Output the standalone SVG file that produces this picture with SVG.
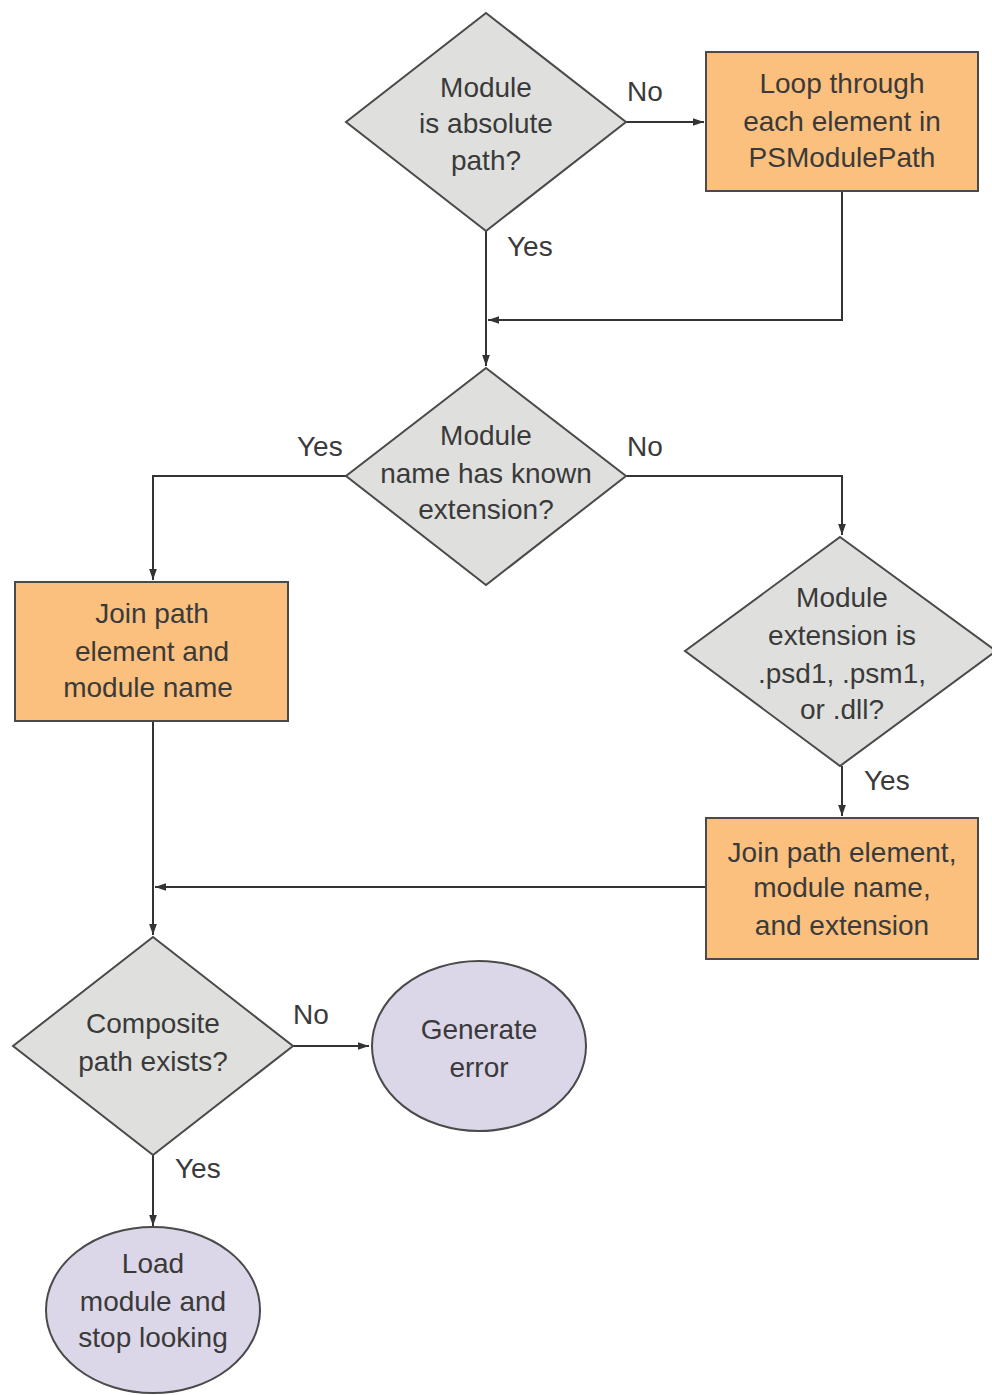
<svg xmlns="http://www.w3.org/2000/svg" width="992" height="1395" viewBox="0 0 992 1395">
<defs>
<style>
.d{fill:#dfe0dd;stroke:#4a4a4a;stroke-width:2}
.r{fill:#fbc07d;stroke:#4a4a4a;stroke-width:2}
.e{fill:#dcd7e8;stroke:#4a4a4a;stroke-width:2}
.t{font-family:"Liberation Sans",Arial,sans-serif;font-size:28px;fill:#3a3a3a;text-anchor:middle}
.l{font-family:"Liberation Sans",Arial,sans-serif;font-size:28px;fill:#3a3a3a}
.c{fill:none;stroke:#333;stroke-width:2}
</style>
<marker id="a" viewBox="0 0 10 10" refX="10" refY="5" markerWidth="11" markerHeight="11" markerUnits="userSpaceOnUse" orient="auto"><path d="M0,1.5 L10,5 L0,8.5 Z" fill="#333"/></marker>
</defs>
<rect width="992" height="1395" fill="#fff"/>
<g id="connectors">
<path class="c" d="M626,122 H704" marker-end="url(#a)"/>
<path class="c" d="M486,231 V366" marker-end="url(#a)"/>
<path class="c" d="M842,191 V320 H488" marker-end="url(#a)"/>
<path class="c" d="M346,476 H153 V580" marker-end="url(#a)"/>
<path class="c" d="M626,476 H842 V535" marker-end="url(#a)"/>
<path class="c" d="M842,766 V816" marker-end="url(#a)"/>
<path class="c" d="M706,887 H155" marker-end="url(#a)"/>
<path class="c" d="M153,721 V935" marker-end="url(#a)"/>
<path class="c" d="M293,1046 H369" marker-end="url(#a)"/>
<path class="c" d="M153,1155 V1226" marker-end="url(#a)"/>
<text class="l" x="627" y="101">No</text>
<text class="l" x="507" y="256">Yes</text>
<text class="l" x="297" y="456">Yes</text>
<text class="l" x="627" y="456">No</text>
<text class="l" x="864" y="790">Yes</text>
<text class="l" x="293" y="1024">No</text>
<text class="l" x="175" y="1178">Yes</text>
</g>
<g id="n1">
<polygon class="d" points="486,13 626,122 486,231 346,122"/>
<text class="t" x="486" y="97">Module</text>
<text class="t" x="486" y="133">is absolute</text>
<text class="t" x="486" y="170">path?</text>
</g>
<g id="n2">
<rect class="r" x="706" y="52" width="272" height="139"/>
<text class="t" x="842" y="93">Loop through</text>
<text class="t" x="842" y="131">each element in</text>
<text class="t" x="842" y="167">PSModulePath</text>
</g>
<g id="n3">
<polygon class="d" points="486,368 626,476 486,585 346,476"/>
<text class="t" x="486" y="445">Module</text>
<text class="t" x="486" y="483">name has known</text>
<text class="t" x="486" y="519">extension?</text>
</g>
<g id="n4">
<rect class="r" x="15" y="582" width="273" height="139"/>
<text class="t" x="152" y="623">Join path</text>
<text class="t" x="152" y="661">element and</text>
<text class="t" x="148" y="697">module name</text>
</g>
<g id="n5">
<polygon class="d" points="840,537 996,651 840,766 685,651"/>
<text class="t" x="842" y="607">Module</text>
<text class="t" x="842" y="645">extension is</text>
<text class="t" x="842" y="683">.psd1, .psm1,</text>
<text class="t" x="842" y="719">or .dll?</text>
</g>
<g id="n6">
<rect class="r" x="706" y="818" width="272" height="141"/>
<text class="t" x="842" y="862">Join path element,</text>
<text class="t" x="842" y="897">module name,</text>
<text class="t" x="842" y="935">and extension</text>
</g>
<g id="n7">
<polygon class="d" points="153,937 293,1046 153,1155 13,1046"/>
<text class="t" x="153" y="1033">Composite</text>
<text class="t" x="153" y="1071">path exists?</text>
</g>
<g id="n8">
<ellipse class="e" cx="479" cy="1046" rx="107" ry="85"/>
<text class="t" x="479" y="1039">Generate</text>
<text class="t" x="479" y="1077">error</text>
</g>
<g id="n9">
<ellipse class="e" cx="153" cy="1310" rx="107" ry="83"/>
<text class="t" x="153" y="1273">Load</text>
<text class="t" x="153" y="1311">module and</text>
<text class="t" x="153" y="1347">stop looking</text>
</g>
</svg>
